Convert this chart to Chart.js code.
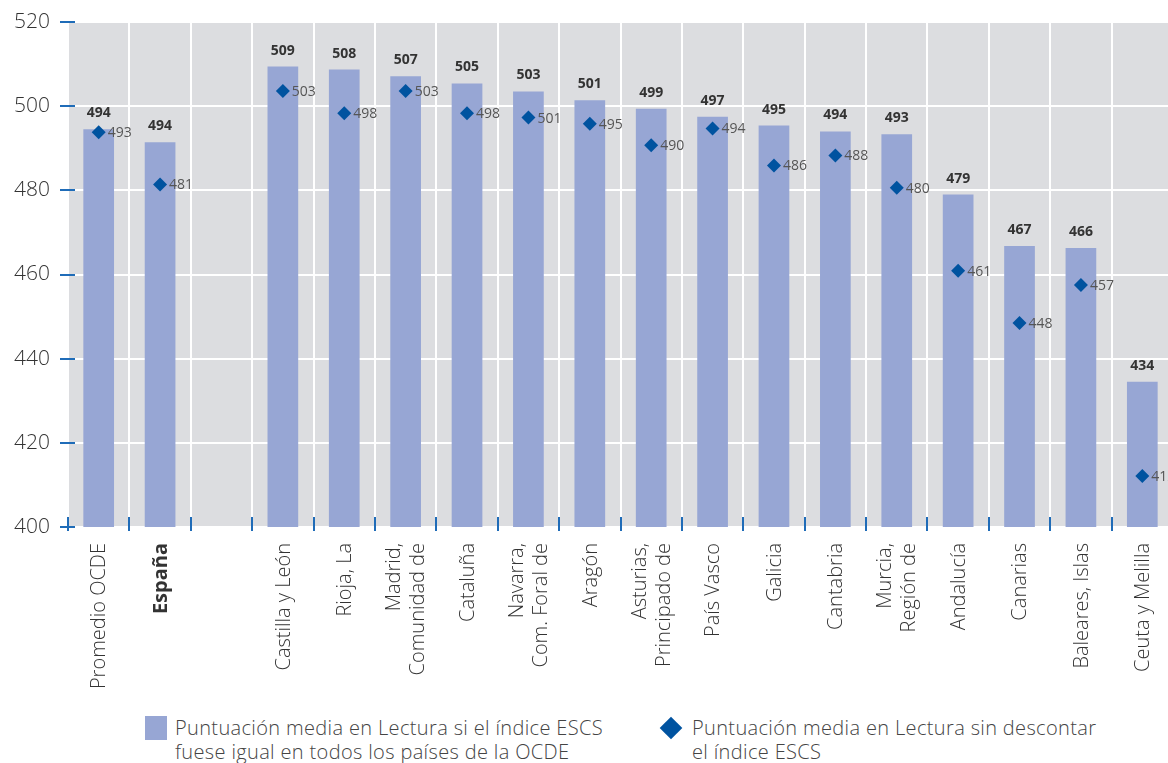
<!DOCTYPE html>
<html>
<head>
<meta charset="utf-8">
<script src="https://cdn.jsdelivr.net/npm/chart.js@4/dist/chart.umd.min.js"></script>
<style>
  html, body { margin: 0; padding: 0; background: #fff; width: 1168px; height: 763px; overflow: hidden; }
  #wrap { position: relative; width: 1168px; height: 763px; overflow: hidden; }
  canvas { position: absolute; left: 0; top: 0; }
  .legend { position: absolute; font-family: 'Open Sans', Lato, sans-serif; font-weight: 300; font-size: 20px; line-height: 24px; letter-spacing: 0.35px; color: #444; }
  .swatch { position: absolute; }
</style>
</head>
<body>
<div id="wrap">
  <canvas id="chart" width="1180" height="705"></canvas>
  <div class="swatch" style="left:145px;top:716px;width:22px;height:24px;background:#97a6d4;"></div>
  <div class="legend" style="left:175px;top:716px;">Puntuación media en Lectura si el índice ESCS<br>fuese igual en todos los países de la OCDE</div>
  <div class="swatch" style="left:663px;top:720px;width:16px;height:16px;background:#0053a0;transform:rotate(45deg);"></div>
  <div class="legend" style="left:692px;top:716px;">Puntuación media en Lectura sin descontar<br>el índice ESCS</div>
</div>
<script>
// categories (multi-line labels as arrays), index 2 is the empty gap
const regions = [
    'Promedio OCDE', 'España', '', 'Castilla y León', 'Rioja, La',
    ['Madrid,', 'Comunidad de'], 'Cataluña', ['Navarra,', 'Com. Foral de'], 'Aragón',
    ['Asturias,', 'Principado de'], 'País Vasco', 'Galicia', 'Cantabria',
    ['Murcia,', 'Región de'], 'Andalucía', 'Canarias', 'Baleares, Islas', 'Ceuta y Melilla'
];

// bar heights as drawn, and their printed labels
const escsBars = [494.5, 491.4, null, 509.4, 508.7, 507.1, 505.4, 503.5, 501.4, 499.4, 497.5, 495.4, 494.0, 493.3, 479.0, 466.8, 466.3, 434.5];
const escsLabels = ['494', '494', '', '509', '508', '507', '505', '503', '501', '499', '497', '495', '494', '493', '479', '467', '466', '434'];

// diamonds as drawn, and their printed labels
const rawScores = [493.8, 481.4, null, 503.6, 498.3, 503.6, 498.3, 497.3, 495.8, 490.7, 494.7, 485.9, 488.3, 480.6, 460.9, 448.5, 457.5, 412.1];
const rawLabels = ['493', '481', '', '503', '498', '503', '498', '501', '495', '490', '494', '486', '488', '480', '461', '448', '457', '412'];

const yTicks = [400, 420, 440, 460, 480, 500, 520];

const BAR_COLOR = '#97a6d4';
const DIAMOND_COLOR = '#0053a0';
const TICK_BLUE = '#1f6cb8';
const PLOT_BG = '#dcdde0';
const FONT = "'Open Sans', Lato, sans-serif";

Chart.defaults.font.family = FONT;

// gray plot background
const plotBackground = {
    id: 'plotBackground',
    beforeDraw(chart) {
        const { ctx, chartArea: a } = chart;
        ctx.save();
        ctx.fillStyle = PLOT_BG;
        ctx.fillRect(a.left, a.top, a.right - a.left, a.bottom - a.top);
        ctx.restore();
    }
};

// blue tick marks on both axes
const blueTicks = {
    id: 'blueTicks',
    afterDraw(chart) {
        const { ctx, chartArea: a, scales } = chart;
        ctx.save();
        ctx.strokeStyle = TICK_BLUE;
        ctx.lineWidth = 2;
        ctx.beginPath();
        yTicks.forEach(v => {
            const y = Math.round(scales.y.getPixelForValue(v));
            ctx.moveTo(a.left - 8, y);
            ctx.lineTo(a.left + 7, y);
        });
        const step = (a.right - a.left) / regions.length;
        for (let i = 0; i <= regions.length; i++) {
            const x = Math.round(a.left + i * step);
            ctx.moveTo(x, a.bottom - 10);
            ctx.lineTo(x, a.bottom + 4);
        }
        ctx.stroke();
        ctx.restore();
    }
};

// rotated category labels, multi-line ones centred on the tick
const categoryLabels = {
    id: 'categoryLabels',
    afterDraw(chart) {
        const { ctx, chartArea: a, scales } = chart;
        const lineHeight = 24;
        ctx.save();
        ctx.fillStyle = '#333';
        ctx.textAlign = 'right';
        ctx.textBaseline = 'middle';
        regions.forEach((lab, i) => {
            const lines = Array.isArray(lab) ? lab : [lab];
            const cx = scales.x.getPixelForTick(i);
            ctx.font = (i === 1 ? 'bold ' : '300 ') + '20px ' + FONT;
            lines.forEach((line, j) => {
                const x = cx + (j - (lines.length - 1) / 2) * lineHeight + 1;
                ctx.save();
                ctx.translate(x, a.bottom + 16);
                ctx.rotate(-Math.PI / 2);
                ctx.fillText(line, 0, 0);
                ctx.restore();
            });
        });
        ctx.restore();
    }
};

// value labels above bars and next to diamonds
const valueLabels = {
    id: 'valueLabels',
    afterDatasetsDraw(chart) {
        const { ctx } = chart;
        ctx.save();
        const bars = chart.getDatasetMeta(0).data;
        ctx.font = 'bold 14px ' + FONT;
        ctx.fillStyle = '#333';
        ctx.textAlign = 'center';
        ctx.textBaseline = 'alphabetic';
        bars.forEach((el, i) => {
            if (escsBars[i] == null) return;
            ctx.fillText(escsLabels[i], el.x, el.y - 12);
        });
        const pts = chart.getDatasetMeta(1).data;
        ctx.font = '14px ' + FONT;
        ctx.fillStyle = '#555';
        ctx.textAlign = 'left';
        ctx.textBaseline = 'middle';
        pts.forEach((el, i) => {
            if (rawScores[i] == null) return;
            ctx.fillText(rawLabels[i], el.x + 9, el.y + 1);
        });
        ctx.restore();
    }
};

new Chart(document.getElementById('chart'), {
    type: 'bar',
    data: {
        labels: regions,
        datasets: [
            {
                label: 'Puntuación media en Lectura si el índice ESCS fuese igual en todos los países de la OCDE',
                data: escsBars,
                backgroundColor: BAR_COLOR,
                barPercentage: 0.5,
                categoryPercentage: 1.0,
                order: 2
            },
            {
                type: 'line',
                label: 'Puntuación media en Lectura sin descontar el índice ESCS',
                data: rawScores,
                showLine: false,
                pointStyle: 'rectRot',
                pointRadius: 7,
                pointHoverRadius: 7,
                pointBackgroundColor: DIAMOND_COLOR,
                pointBorderWidth: 0,
                order: 1
            }
        ]
    },
    options: {
        responsive: false,
        animation: false,
        layout: { padding: { top: 22, right: 7, left: 0, bottom: 0 } },
        plugins: {
            legend: { display: false },
            tooltip: { enabled: false }
        },
        scales: {
            x: {
                offset: true,
                grid: { color: '#ffffff', lineWidth: 2, offset: true, drawTicks: false },
                border: { display: false },
                ticks: { display: false, autoSkip: false },
                afterFit(scale) {
                    scale.height = 705 - 527;
                    scale.paddingLeft = 0;
                    scale.paddingRight = 0;
                }
            },
            y: {
                min: 400,
                max: 520,
                afterBuildTicks(scale) { scale.ticks = yTicks.map(v => ({ value: v })); },
                grid: { color: '#ffffff', lineWidth: 2, drawTicks: false },
                border: { display: false },
                ticks: {
                    padding: 18,
                    color: '#333',
                    font: { size: 21, weight: '300' }
                },
                afterFit(scale) {
                    scale.width = 68;
                    scale.paddingTop = 0;
                    scale.paddingBottom = 0;
                }
            }
        }
    },
    plugins: [plotBackground, blueTicks, categoryLabels, valueLabels]
});
</script>
</body>
</html>
